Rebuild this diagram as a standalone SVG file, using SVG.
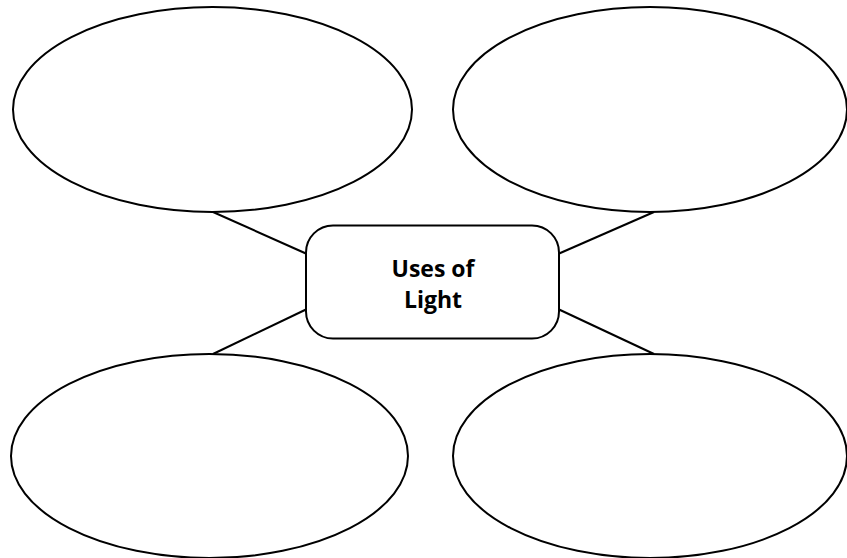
<svg xmlns="http://www.w3.org/2000/svg" width="847" height="558" viewBox="0 0 847 558">
<style>
.shape{fill:#fff;stroke:#000;stroke-width:2}
.conn{stroke:#000;stroke-width:2;fill:none}
.label{font-family:"Open Sans","Noto Sans","Liberation Sans",sans-serif;font-weight:bold;font-size:23px;fill:#000;text-anchor:middle}
</style>
<rect width="847" height="558" fill="#fff"/>
<g id="connectors">
<line class="conn" x1="213" y1="212" x2="307" y2="254"/>
<line class="conn" x1="558" y1="254" x2="654" y2="212"/>
<line class="conn" x1="307" y1="309" x2="213" y2="354"/>
<line class="conn" x1="558" y1="309" x2="654" y2="354"/>
</g>
<g id="node-top-left"><ellipse class="shape" cx="212.5" cy="109.5" rx="199.5" ry="102.5"/></g>
<g id="node-top-right"><ellipse class="shape" cx="650" cy="109.5" rx="197" ry="102.5"/></g>
<g id="node-bottom-left"><ellipse class="shape" cx="209.5" cy="456" rx="198.5" ry="102"/></g>
<g id="node-bottom-right"><ellipse class="shape" cx="650" cy="456" rx="197" ry="102"/></g>
<g id="node-center">
<rect class="shape" x="306" y="225.5" width="253" height="113" rx="27" ry="27"/>
<text class="label" x="433" y="277">Uses of</text>
<text class="label" x="433" y="308">Light</text>
</g>
</svg>
